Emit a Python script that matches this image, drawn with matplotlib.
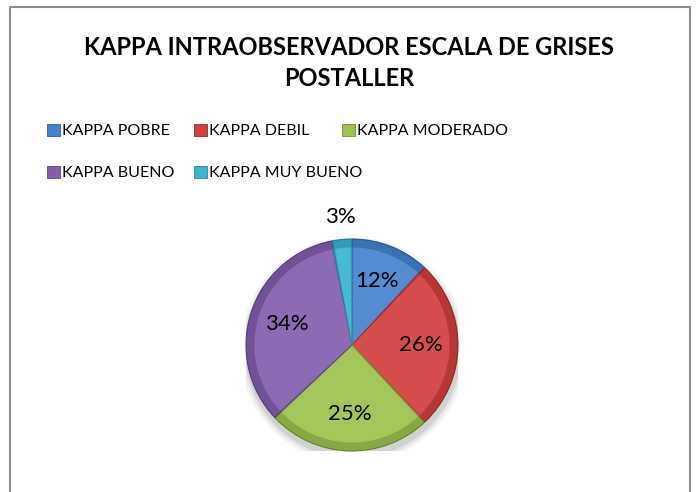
import matplotlib
matplotlib.use("Agg")
import matplotlib.pyplot as plt
from matplotlib.patches import Patch, Wedge, Circle
import numpy as np

categories = ["KAPPA POBRE", "KAPPA DEBIL", "KAPPA MODERADO", "KAPPA BUENO", "KAPPA MUY BUENO"]
values = [12, 26, 25, 34, 3]
colors = ["#4682CE", "#D3403C", "#9CC24E", "#835FAE", "#3BB4D0"]
edge_colors = ["#2E5E9A", "#9A2A27", "#6E8E33", "#5C4180", "#23869E"]
title = "KAPPA INTRAOBSERVADOR ESCALA DE GRISES\nPOSTALLER"

plt.rcParams['font.family'] = ['Lato', 'DejaVu Sans']

fig = plt.figure(figsize=(6.97, 4.92), dpi=100)
fig.patch.set_facecolor("white")

W, H = 697, 492
def fx(px): return px / W
def fy(py): return 1 - py / H

border = plt.Line2D([fx(10), fx(10), fx(690), fx(690)], [0, fy(6.5), fy(6.5), 0],
                    transform=fig.transFigure, color="#8C8C8C", lw=1.5)
fig.add_artist(border)

fig.text(fx(349), fy(63), title, ha="center", va="center", fontsize=17, fontweight="bold",
         linespacing=1.45, color="black")

# legend entries (row-wise as in reference)
leg_pos = [(47, 131), (194, 131), (342, 131), (47, 173), (194, 173)]
for i, (cat, col) in enumerate(zip(categories, colors)):
    h = Patch(facecolor=col, edgecolor=edge_colors[i], linewidth=0.6)
    fig.legend(handles=[h], labels=[cat], loc="center left",
               bbox_to_anchor=(fx(leg_pos[i][0]), fy(leg_pos[i][1])),
               frameon=False, fontsize=11.5, handlelength=0.8, handleheight=0.8,
               handletextpad=0.15, borderpad=0, borderaxespad=0)

# pie
cx, cy, r = 352, 345, 106
ax = fig.add_axes([fx(cx - r), fy(cy + r), 2 * r / W, 2 * r / H])
ax.axis("off")

# soft shadow
for k, a in zip([1.07, 1.045, 1.02], [0.04, 0.06, 0.09]):
    ax.add_patch(Circle((0.01, -0.05), k, color="black", alpha=a, lw=0, zorder=0))

wedges, texts, autotexts = ax.pie(values, colors=colors, startangle=90, counterclock=False,
                                  radius=1, autopct=lambda p: f"{p:.0f}%", pctdistance=0.65,
                                  wedgeprops=dict(linewidth=0.0),
                                  textprops=dict(fontsize=16, color="black"))
ax.set_xlim(-1, 1)
ax.set_ylim(-1, 1)
ax.set_aspect("equal")

# bevel effect
for w, ec, col in zip(wedges, edge_colors, colors):
    w.set_zorder(1)
    w.set_edgecolor(ec)
    w.set_linewidth(0.8)
    th1, th2 = w.theta1, w.theta2
    ax.add_patch(Wedge((0, 0), 1.0, th1, th2, width=0.08, facecolor="black",
                       alpha=0.13, edgecolor="none", zorder=1.5))
    ax.add_patch(Wedge((0, 0), 0.92, th1 + 1.2, th2 - 1.2, facecolor="white",
                       alpha=0.08, edgecolor="none", zorder=2.1))

for t in autotexts:
    t.set_zorder(5)
    t.set_clip_on(False)

# small slice label outside
w = wedges[-1]
mid = np.deg2rad((w.theta1 + w.theta2) / 2)
autotexts[-1].set_position((1.21 * np.cos(mid), 1.21 * np.sin(mid)))

fig.savefig("out.png", dpi=100, facecolor="white")
